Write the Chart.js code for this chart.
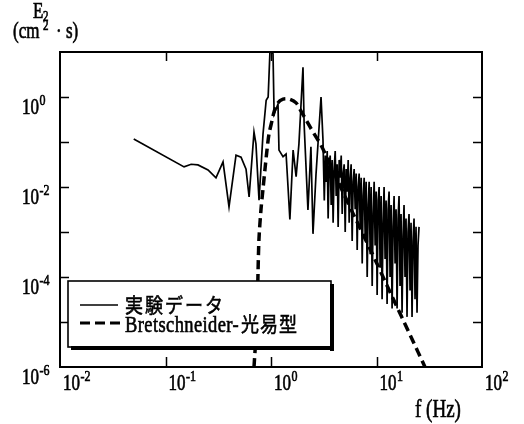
<!DOCTYPE html>
<html>
<head>
<meta charset="utf-8">
<script src="https://cdn.jsdelivr.net/npm/chart.js@4.4.0/dist/chart.umd.min.js"></script>
<style>
  html, body { margin: 0; padding: 0; background: #fff; }
  #wrap { width: 524px; height: 424px; }
</style>
</head>
<body>
<div id="wrap"><canvas id="spectrum" width="524" height="424"></canvas></div>
<script>
// 実験データ 低周波側 (f: Hz, E: cm^2・s)
const expFreqLow = [0.05, 0.15, 0.175, 0.203, 0.253, 0.301, 0.351, 0.40, 0.466, 0.52,
  0.58, 0.62, 0.69, 0.72, 0.77, 0.84, 0.90, 0.94, 0.98, 1.045,
  1.07, 1.165, 1.19, 1.30, 1.39, 1.45, 1.51, 1.62, 1.73, 1.84,
  2.01, 2.06, 2.24, 2.39, 2.50, 2.67, 2.98, 3.11];
const expEnergyLow = [0.117, 0.028, 0.032, 0.031, 0.024, 0.016, 0.036, 0.0036, 0.051, 0.046,
  0.025, 0.006, 0.166, 0.091, 0.0051, 0.15, 0.85, 1.0, 12, 9.1,
  0.42, 0.70, 0.066, 0.047, 0.054, 0.010, 0.0019, 0.066, 0.017, 0.091,
  4.6, 0.25, 0.0031, 0.078, 0.00091, 0.019, 1.0, 0.11];

// 実験データ 高周波側
const expFreqHigh = [3.2, 3.27, 3.34, 3.41, 3.48, 3.56, 3.64, 3.72, 3.80, 3.88,
  3.97, 4.06, 4.15, 4.24, 4.33, 4.43, 4.53, 4.63, 4.73, 4.83,
  4.94, 5.05, 5.16, 5.27, 5.39, 5.51, 5.63, 5.75, 5.88, 6.01,
  6.14, 6.28, 6.42, 6.56, 6.70, 6.85, 7.00, 7.16, 7.32, 7.48,
  7.64, 7.81, 7.98, 8.16, 8.34, 8.52, 8.71, 8.90, 9.10, 9.30,
  9.50, 9.71, 9.92, 10.14, 10.36, 10.59, 10.82, 11.06, 11.30, 11.55,
  11.80, 12.06, 12.33, 12.60, 12.88, 13.16, 13.45, 13.75, 14.05, 14.36,
  14.68, 15.00, 15.33, 15.67, 16.01, 16.36, 16.72, 17.09, 17.47, 17.85,
  18.24, 18.64, 19.05, 19.47, 19.90, 20.34, 20.79, 21.25, 21.72, 22.20,
  22.69, 23.19, 23.70, 24.22, 24.75, 25.30];
const expEnergyHigh = [5.0e-3, 5.0e-2, 1.3e-2, 6.3e-2, 2.0e-3, 3.2e-2, 5.0e-2, 4.0e-3, 4.0e-2, 1.6e-3,
  2.5e-2, 6.3e-2, 6.3e-3, 3.2e-2, 1.3e-3, 4.0e-2, 1.6e-2, 5.0e-2, 2.5e-3, 2.0e-2,
  3.2e-2, 1.0e-3, 2.5e-2, 7.9e-3, 4.0e-2, 1.6e-3, 1.6e-2, 3.2e-2, 6.3e-4, 1.3e-2,
  2.5e-2, 3.2e-3, 2.0e-2, 4.0e-4, 1.0e-2, 2.0e-2, 1.3e-3, 1.6e-2, 2.0e-4, 6.3e-3,
  1.6e-2, 7.9e-4, 1.3e-2, 1.0e-4, 4.0e-3, 1.3e-2, 3.2e-4, 1.0e-2, 6.3e-5, 2.5e-3,
  1.3e-2, 5.0e-4, 7.9e-3, 4.0e-5, 5.0e-3, 1.0e-2, 1.6e-4, 6.3e-3, 3.2e-5, 1.6e-3,
  1.0e-2, 2.5e-4, 5.0e-3, 2.5e-5, 3.2e-3, 7.9e-3, 1.0e-4, 4.0e-3, 2.0e-5, 1.3e-3,
  6.3e-3, 2.0e-4, 3.2e-3, 2.0e-5, 2.0e-3, 6.3e-3, 6.3e-5, 2.5e-3, 1.6e-5, 7.9e-4,
  4.0e-3, 1.0e-4, 2.0e-3, 1.3e-5, 1.0e-3, 2.5e-3, 5.0e-5, 1.6e-3, 1.3e-5, 6.3e-4,
  2.0e-3, 3.2e-5, 1.3e-3, 1.6e-5, 5.0e-4, 1.3e-3];

// Bretschneider-光易型スペクトル
const bsFreq = [0.69, 0.736, 0.753, 0.769, 0.804, 0.84, 0.877, 0.916, 0.957, 1.02,
  1.07, 1.16, 1.30, 1.48, 1.73, 1.92, 2.15, 2.39, 2.67, 2.98,
  3.70, 5.73, 8.87, 13.7, 21.2, 28.8];
const bsEnergy = [1.0e-6, 1.2e-5, 1.2e-4, 6.9e-4, 3.2e-3, 9.1e-3, 2.5e-2, 6.6e-2, 0.15, 0.29,
  0.47, 0.74, 0.90, 0.90, 0.74, 0.49, 0.31, 0.20, 0.13, 0.085,
  0.029, 3.2e-3, 3.8e-4, 4.2e-5, 4.7e-6, 1.0e-6];

// 目盛り
const xTickValues = [0.01, 0.1, 1, 10, 100];
const xTickExps = ['-2', '-1', '0', '1', '2'];
const yTickValues = [1e-6, 1e-5, 1e-4, 1e-3, 1e-2, 1e-1, 1, 10];
const yLabelValues = [1e-6, 1e-4, 1e-2, 1];
const yLabelExps = ['-6', '-4', '-2', '0'];
const legendLabels = ['実験データ', 'Bretschneider-光易型'];

const SERIF = '"Liberation Serif", serif';
const CJK = '"Noto Sans CJK JP", sans-serif';
const STRETCH = 1.3; // 文字を縦に少し伸ばす

function toPoints(fs, es) {
  return fs.map((f, i) => ({ x: f, y: es[i] }));
}

// 縦長の文字を描いて、描いた幅を返す
function tallText(ctx, str, x, y, size, sy, family) {
  ctx.save();
  ctx.font = size + 'px ' + (family || SERIF);
  ctx.textAlign = 'left';
  ctx.textBaseline = 'alphabetic';
  ctx.lineWidth = 0.5;
  ctx.strokeStyle = '#000';
  const w = ctx.measureText(str).width;
  ctx.translate(x, y);
  ctx.scale(1, sy || STRETCH);
  ctx.fillText(str, 0, 0);
  ctx.strokeText(str, 0, 0);
  ctx.restore();
  return w;
}

// 10の累乗ラベル
function powerLabel(ctx, exp, x, y) {
  const w = tallText(ctx, '10', x, y, 17);
  tallText(ctx, exp, x + w + 0.5, y - 9, 12);
}

const framePlugin = {
  id: 'frame',
  afterDraw(chart) {
    const { ctx, chartArea: a } = chart;
    const xs = chart.scales.x;
    const ys = chart.scales.y;
    ctx.save();
    ctx.strokeStyle = '#000';
    ctx.fillStyle = '#000';

    // 枠
    ctx.lineWidth = 2;
    ctx.strokeRect(a.left, a.top, a.right - a.left, a.bottom - a.top);

    // 内向きの目盛り
    ctx.lineWidth = 1.5;
    ctx.beginPath();
    xTickValues.slice(1, -1).forEach(v => {
      const px = Math.round(xs.getPixelForValue(v)) + 0.5;
      ctx.moveTo(px, a.bottom); ctx.lineTo(px, a.bottom - 10);
      ctx.moveTo(px, a.top); ctx.lineTo(px, a.top + 9);
    });
    yTickValues.slice(1, -1).forEach(v => {
      const py = Math.round(ys.getPixelForValue(v)) + 0.5;
      ctx.moveTo(a.left, py); ctx.lineTo(a.left + 9, py);
      ctx.moveTo(a.right, py); ctx.lineTo(a.right - 9, py);
    });
    ctx.stroke();

    // 目盛りラベル
    xTickValues.forEach((v, i) => {
      powerLabel(ctx, xTickExps[i], xs.getPixelForValue(v) + 3, a.bottom + 23);
    });
    yLabelValues.forEach((v, i) => {
      powerLabel(ctx, yLabelExps[i], 22, ys.getPixelForValue(v) + 17);
    });

    // 軸タイトル
    tallText(ctx, 'E', 33, 18, 17);
    tallText(ctx, '2', 43, 21, 11);
    tallText(ctx, '(cm', 13, 38, 17);
    tallText(ctx, '2', 43, 30, 11);
    tallText(ctx, '·', 56, 38, 17);
    tallText(ctx, 's)', 66, 38, 17);
    tallText(ctx, 'f (Hz)', 415, 417, 19);

    // 凡例
    ctx.fillStyle = '#fff';
    ctx.fillRect(68, 281, 263, 66);
    ctx.lineWidth = 1.6;
    ctx.strokeRect(68, 281, 263, 66);
    ctx.fillStyle = '#000';
    ctx.fillRect(330, 284, 4, 67);
    ctx.fillRect(71, 346, 263, 4);

    ctx.lineWidth = 1.6;
    ctx.beginPath();
    ctx.moveTo(80, 305); ctx.lineTo(118, 305);
    ctx.stroke();
    ctx.lineWidth = 3;
    ctx.setLineDash([10, 5]);
    ctx.beginPath();
    ctx.moveTo(80, 323); ctx.lineTo(120, 323);
    ctx.stroke();
    ctx.setLineDash([]);

    ctx.letterSpacing = '2px';
    tallText(ctx, legendLabels[0], 125, 313, 18, 1.15, CJK);
    ctx.letterSpacing = '0.4px';
    const latin = legendLabels[1].replace(/[^\x00-\x7f]+$/, '');
    const kanji = legendLabels[1].slice(latin.length);
    const lw = tallText(ctx, latin, 125, 332, 18.5, 1.2);
    ctx.letterSpacing = '1px';
    tallText(ctx, kanji, 125 + lw + 2, 332, 18, 1.15, CJK);
    ctx.letterSpacing = '0px';

    ctx.restore();
  }
};

const ctx = document.getElementById('spectrum').getContext('2d');

new Chart(ctx, {
  type: 'line',
  data: {
    datasets: [
      {
        label: legendLabels[0],
        data: toPoints(expFreqLow.concat(expFreqHigh), expEnergyLow.concat(expEnergyHigh)),
        borderColor: '#000',
        borderWidth: 1.7,
        pointRadius: 0,
        tension: 0,
        fill: false,
      },
      {
        label: legendLabels[1],
        data: toPoints(bsFreq, bsEnergy),
        borderColor: '#000',
        borderWidth: 3.5,
        borderDash: [9, 5],
        pointRadius: 0,
        tension: 0.3,
        fill: false,
      },
    ],
  },
  options: {
    responsive: false,
    animation: false,
    devicePixelRatio: 1,
    layout: { padding: { left: 60, right: 42, top: 52, bottom: 57 } },
    plugins: {
      legend: { display: false },
      tooltip: { enabled: false },
    },
    scales: {
      x: { type: 'logarithmic', min: 0.01, max: 100, display: false },
      y: { type: 'logarithmic', min: 1e-6, max: 10, display: false },
    },
  },
  plugins: [framePlugin],
});
</script>
</body>
</html>
